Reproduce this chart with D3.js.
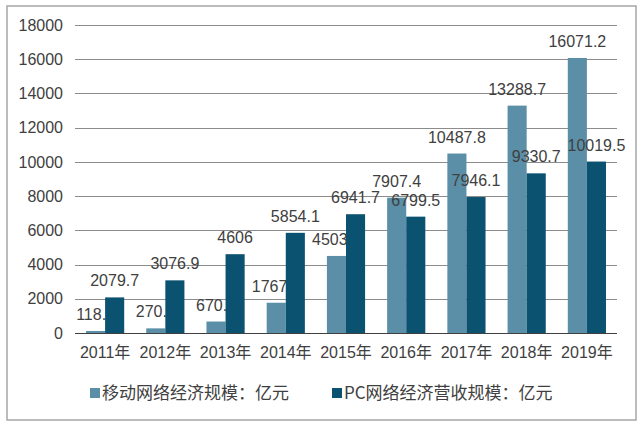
<!DOCTYPE html>
<html><head><meta charset="utf-8">
<script src="https://cdn.jsdelivr.net/npm/d3@7/dist/d3.min.js"></script>
<style>
html,body{margin:0;padding:0;background:#fff;}
svg{display:block;}
text{font-family:"Liberation Sans",Arial,"Noto Sans CJK SC",sans-serif;fill:#404040;}
</style></head>
<body>
<svg id="c" width="640" height="428"></svg>
<script>
const categories = ["2011年","2012年","2013年","2014年","2015年","2016年","2017年","2018年","2019年"];
const mobileValues = [118.3,270.9,670.5,1767.6,4503.4,7907.4,10487.8,13288.7,16071.2];
const pcValues = [2079.7,3076.9,4606,5854.1,6941.7,6799.5,7946.1,9330.7,10019.5];
const seriesNames = ["移动网络经济规模：亿元","PC网络经济营收规模：亿元"];
const yTicks = [0,2000,4000,6000,8000,10000,12000,14000,16000,18000];

const colors = ["#5b8fa8","#0b5170"];
const svg = d3.select("#c");

svg.append("rect").attr("x",7).attr("y",6).attr("width",629).attr("height",414)
  .attr("fill","#fff").attr("stroke","#a6a6a6").attr("stroke-width",1.5);

const x0 = d3.scaleBand().domain(categories).range([75,617]).paddingInner(0.366).paddingOuter(0.183);
const x1 = d3.scaleBand().domain([0,1]).range([0,x0.bandwidth()]);
const y = d3.scaleLinear().domain([0,18000]).range([333,25]);

// gridlines
svg.append("g").selectAll("line").data(yTicks.filter(d=>d>0)).join("line")
  .attr("x1",75).attr("x2",617).attr("y1",d=>Math.round(y(d))+0.5).attr("y2",d=>Math.round(y(d))+0.5)
  .attr("stroke","#8c8c8c").attr("stroke-width",1);

// y tick labels
const yAxis = d3.axisLeft(y).tickValues(yTicks).tickSize(0).tickPadding(0).tickFormat(d3.format("d"));
const ya = svg.append("g").attr("transform","translate(63,0)").call(yAxis);
ya.select(".domain").remove();
ya.selectAll("text").attr("font-size","16px").attr("fill","#404040")
  .style("font-family","'Liberation Sans',Arial,sans-serif");

const series = [mobileValues, pcValues];
function drawBars(si){
  svg.append("g").selectAll("rect").data(series[si]).join("rect")
    .attr("x",(d,i)=>x0(categories[i])+x1(si))
    .attr("width",x1.bandwidth())
    .attr("y",d=>y(d)).attr("height",d=>y(0)-y(d))
    .attr("fill",colors[si]);
}
function drawLabels(si){
  svg.append("g").selectAll("text").data(series[si]).join("text")
    .attr("x",(d,i)=>x0(categories[i])+x1(si)+x1.bandwidth()/2)
    .attr("y",d=>y(d)-11)
    .attr("text-anchor","middle").attr("font-size","16px")
    .text(d=>d);
}
drawBars(0); drawLabels(0); drawBars(1); drawLabels(1);

// x axis line
svg.append("line").attr("x1",75).attr("x2",617).attr("y1",333.5).attr("y2",333.5)
  .attr("stroke","#404040").attr("stroke-width",1.2);

// x labels
const xAxis = d3.axisBottom(x0).tickSize(0).tickPadding(0);
const xa = svg.append("g").attr("transform","translate(0,345)").call(xAxis);
xa.select(".domain").remove();
xa.selectAll("text").attr("font-size","16px").attr("fill","#404040").attr("dy","0.8em")
  .style("font-family","'Liberation Sans',Arial,'Noto Sans CJK SC',sans-serif");

// legend
const legX = [90,332];
seriesNames.forEach((n,i)=>{
  svg.append("rect").attr("x",legX[i]).attr("y",388).attr("width",10).attr("height",10).attr("fill",colors[i]);
  svg.append("text").attr("x",legX[i]+12).attr("y",393).attr("dy","0.36em")
    .attr("font-size","17px").style("font-family","'Noto Sans CJK SC',sans-serif").text(n);
});
</script>
</body></html>
